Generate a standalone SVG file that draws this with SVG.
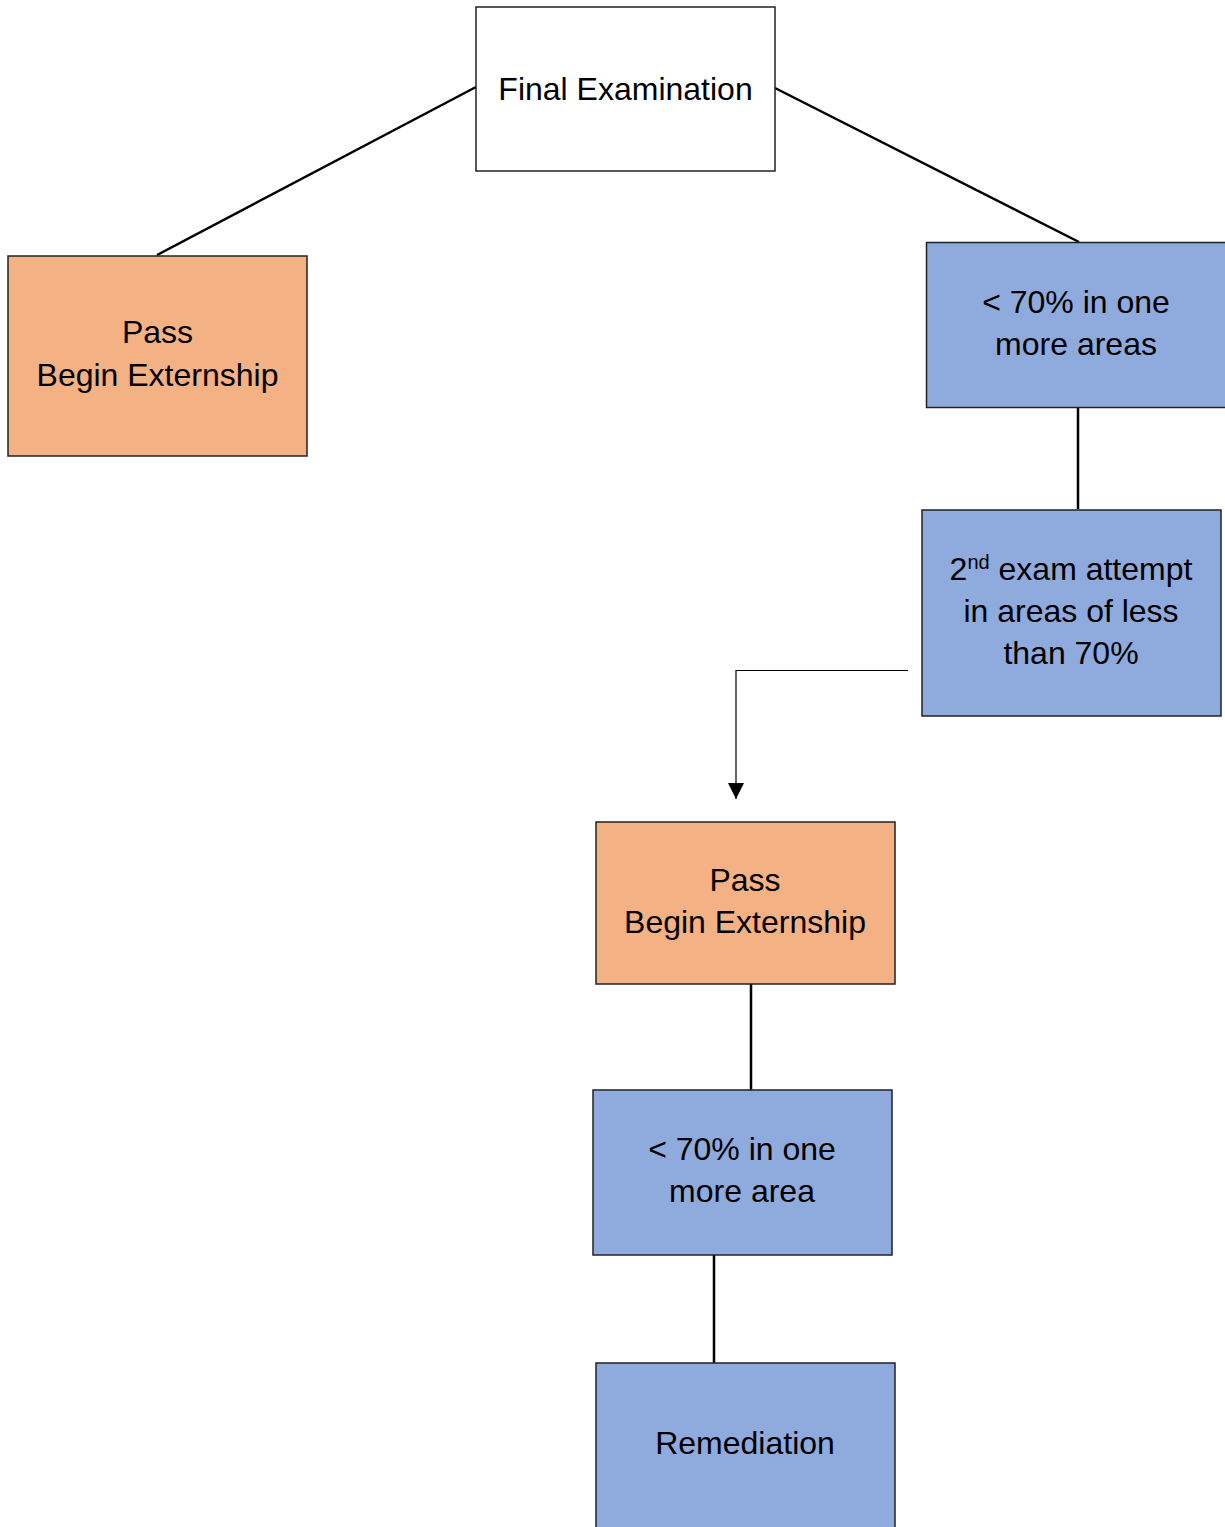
<svg xmlns="http://www.w3.org/2000/svg" width="1225" height="1527" viewBox="0 0 1225 1527">
<style>
.box{stroke:#222;stroke-width:1.5}
.white{fill:#ffffff}
.orange{fill:#F4B183}
.blue{fill:#8FAADC}
.lbl{font-family:"Liberation Sans",Arial,sans-serif;font-size:32px;fill:#000;text-anchor:middle}
.conn{stroke:#000;stroke-width:2.5;fill:none}
.thin{stroke:#000;stroke-width:1.2;fill:none}
</style>
<defs>
<marker id="arrow" viewBox="0 0 10 10" refX="10" refY="5" markerWidth="16" markerHeight="16" markerUnits="userSpaceOnUse" orient="auto">
<path d="M0,0 L10,5 L0,10 z" fill="#000"/>
</marker>
</defs>
<rect width="1225" height="1527" fill="#ffffff"/>
<g id="connectors">
<line class="conn" x1="476" y1="87" x2="157" y2="255"/>
<line class="conn" x1="775" y1="88" x2="1079" y2="242"/>
<line class="conn" x1="1078" y1="407" x2="1078" y2="509"/>
<polyline class="thin" points="908,670.5 736,670.5 736,799" marker-end="url(#arrow)"/>
<line class="conn" x1="751" y1="984" x2="751" y2="1090"/>
<line class="conn" x1="714" y1="1255" x2="714" y2="1363"/>
</g>
<g id="final-exam">
<rect class="box white" x="476" y="7" width="299" height="164"/>
<text class="lbl" x="625.5" y="100">Final Examination</text>
</g>
<g id="pass-1">
<rect class="box orange" x="8" y="256" width="299" height="200"/>
<text class="lbl" x="157.5" y="343">Pass</text>
<text class="lbl" x="157.5" y="386">Begin Externship</text>
</g>
<g id="below70-areas">
<rect class="box blue" x="926.5" y="242.5" width="305" height="165"/>
<text class="lbl" x="1076" y="313">&lt; 70% in one</text>
<text class="lbl" x="1076" y="355">more areas</text>
</g>
<g id="second-attempt">
<rect class="box blue" x="922" y="510" width="299" height="206"/>
<text class="lbl" x="1071" y="580">2<tspan font-size="20" dy="-11">nd</tspan><tspan dy="11"> exam attempt</tspan></text>
<text class="lbl" x="1071" y="622">in areas of less</text>
<text class="lbl" x="1071" y="664">than 70%</text>
</g>
<g id="pass-2">
<rect class="box orange" x="596" y="822" width="299" height="162"/>
<text class="lbl" x="745" y="891">Pass</text>
<text class="lbl" x="745" y="933">Begin Externship</text>
</g>
<g id="below70-area">
<rect class="box blue" x="593" y="1090" width="299" height="165"/>
<text class="lbl" x="742" y="1160">&lt; 70% in one</text>
<text class="lbl" x="742" y="1202">more area</text>
</g>
<g id="remediation">
<rect class="box blue" x="596" y="1363" width="299" height="170"/>
<text class="lbl" x="745" y="1454">Remediation</text>
</g>
</svg>
